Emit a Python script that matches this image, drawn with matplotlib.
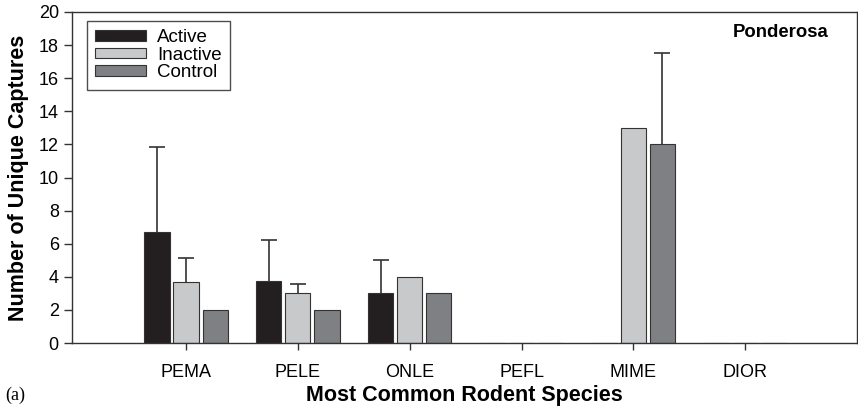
import matplotlib
matplotlib.use("Agg")
import matplotlib.pyplot as plt
import numpy as np

plt.rcParams['font.family'] = ['Liberation Sans', 'DejaVu Sans']

species = ["PEMA", "PELE", "ONLE", "PEFL", "MIME", "DIOR"]
active = [6.7, 3.75, 3.0, 0, 0, 0]
active_err = [5.15, 2.45, 2.0, 0, 0, 0]
inactive = [3.67, 3.0, 4.0, 0, 13.0, 0]
inactive_err = [1.47, 0.58, 0, 0, 0, 0]
control = [2.0, 2.0, 3.0, 0, 12.0, 0]
control_err = [0, 0, 0, 0, 5.55, 0]

series_names = ["Active", "Inactive", "Control"]
colors = ["#231f20", "#c8c9cb", "#7f8084"]

fig = plt.figure(figsize=(8.58, 4.07), dpi=100)
ax = fig.add_axes([72/858, 1-343/407, (857-72)/858, (343-12)/407])

x = np.arange(len(species))
off = 0.26
w = 0.225
for i, (vals, errs, name, c) in enumerate(zip([active, inactive, control],
                                              [active_err, inactive_err, control_err],
                                              series_names, colors)):
    pos = x + (i - 1) * off
    ax.bar(pos, vals, w, color=c, edgecolor="#333333", linewidth=0.8, label=name, zorder=2)
    e = np.array(errs)
    mask = e > 0
    ax.errorbar(pos[mask], np.array(vals)[mask], yerr=e[mask],
                fmt='none', ecolor="#333333", elinewidth=1.2, capsize=6, capthick=1.2, zorder=1)

ax.set_xlim(-1.02, 6.0)
ax.set_ylim(0, 20)
ax.set_yticks(np.arange(0, 21, 2))
ax.set_xticks(x)
ax.set_xticklabels(species)
ax.tick_params(axis='both', labelsize=13, direction='out', width=1, color="#333333")
ax.tick_params(axis='x', pad=10, length=5)
ax.tick_params(axis='y', pad=3.5, length=6)
for s in ax.spines.values():
    s.set_linewidth(1.0)
    s.set_color("#333333")

ax.set_ylabel("Number of Unique Captures", fontsize=15.5, fontweight='bold', labelpad=7)
ax.set_xlabel("Most Common Rodent Species", fontsize=15.5, fontweight='bold', labelpad=3)

ax.text(0.964, 0.937, "Ponderosa", transform=ax.transAxes, ha='right', va='center',
        fontsize=13.3, fontweight='bold')

leg = ax.legend(loc='upper left', bbox_to_anchor=(0.019, 0.973), fontsize=13.5, frameon=True,
                fancybox=False, edgecolor="#222222", handlelength=2.7, handleheight=0.5,
                labelspacing=0.02, borderpad=0.45, handletextpad=0.6, borderaxespad=0)
leg.get_frame().set_linewidth(1.0)

fig.text(5/858, 1-395/407, "(a)", fontsize=13, family=['Liberation Serif', 'DejaVu Serif'],
         va='center', ha='left')

fig.savefig("out.png", dpi=100)
